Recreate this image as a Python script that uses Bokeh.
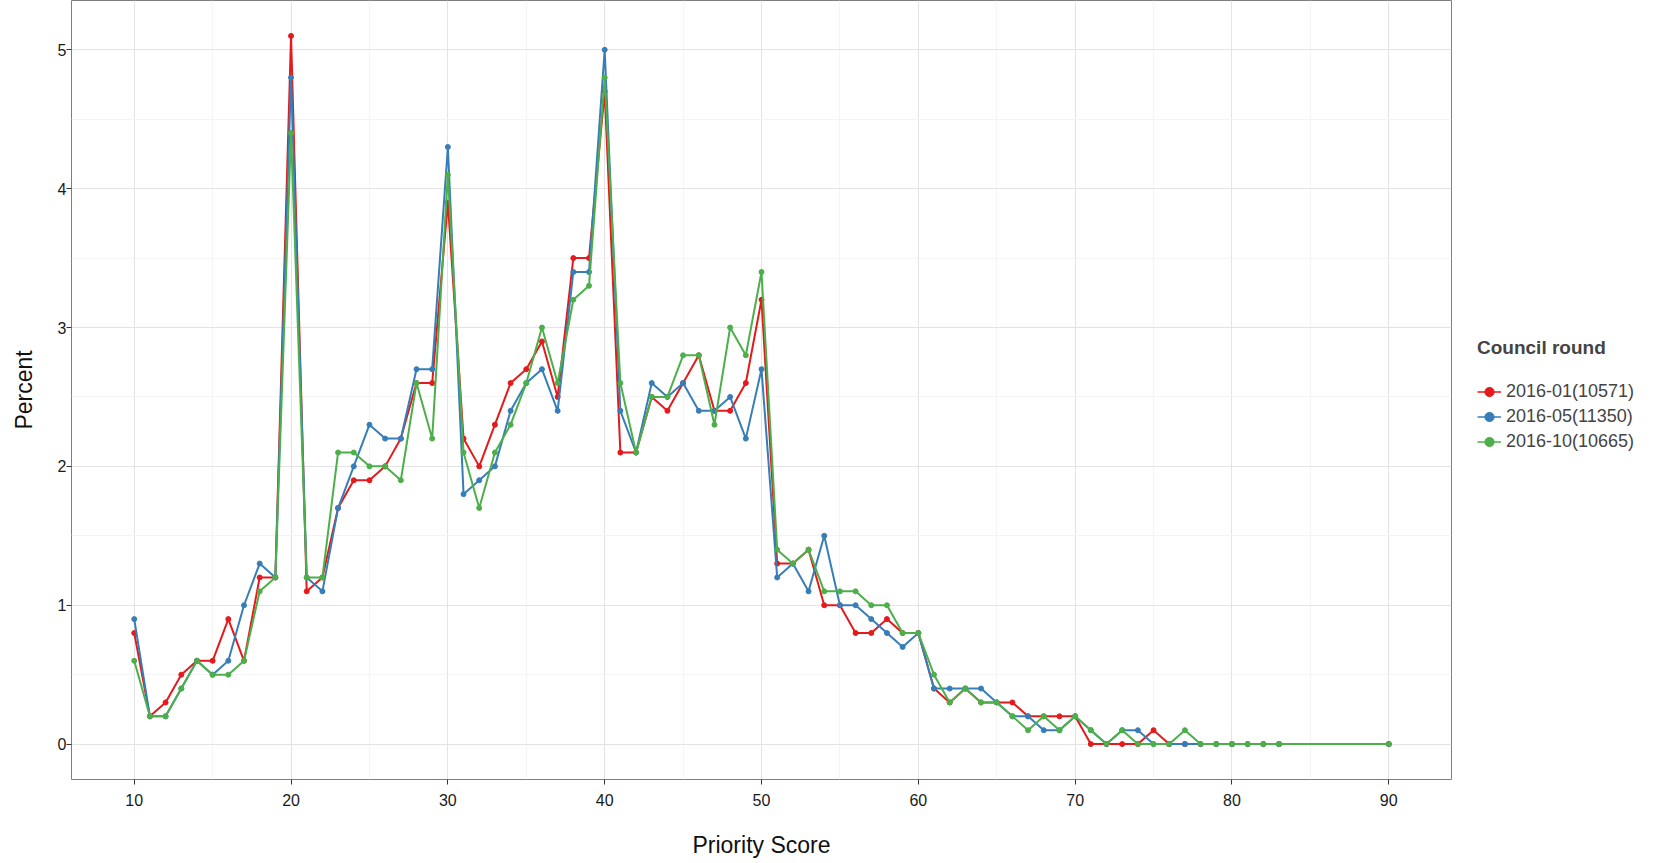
from bokeh.plotting import figure
from bokeh.models import (Range1d, FixedTicker, Legend, LegendItem, ColumnDataSource)
from bokeh.layouts import row
from bokeh.embed import file_html
from bokeh.resources import INLINE

scores = [10, 11, 12, 13, 14, 15, 16, 17, 18, 19, 20,
          21, 22, 23, 24, 25, 26, 27, 28, 29, 30,
          31, 32, 33, 34, 35, 36, 37, 38, 39, 40,
          41, 42, 43, 44, 45, 46, 47, 48, 49, 50,
          51, 52, 53, 54, 55, 56, 57, 58, 59, 60,
          61, 62, 63, 64, 65, 66, 67, 68, 69, 70,
          71, 72, 73, 74, 75, 76, 77, 78, 79, 80, 81, 82, 83,
          90]

round_2016_01 = [0.8, 0.2, 0.3, 0.5, 0.6, 0.6, 0.9, 0.6, 1.2, 1.2, 5.1,
                 1.1, 1.2, 1.7, 1.9, 1.9, 2.0, 2.2, 2.6, 2.6, 3.9,
                 2.2, 2.0, 2.3, 2.6, 2.7, 2.9, 2.5, 3.5, 3.5, 4.7,
                 2.1, 2.1, 2.5, 2.4, 2.6, 2.8, 2.4, 2.4, 2.6, 3.2,
                 1.3, 1.3, 1.4, 1.0, 1.0, 0.8, 0.8, 0.9, 0.8, 0.8,
                 0.4, 0.3, 0.4, 0.3, 0.3, 0.3, 0.2, 0.2, 0.2, 0.2,
                 0.0, 0.0, 0.0, 0.0, 0.1, 0.0, 0.0, 0.0, 0.0, 0.0, 0.0, 0.0, 0.0,
                 0.0]

round_2016_05 = [0.9, 0.2, 0.2, 0.4, 0.6, 0.5, 0.6, 1.0, 1.3, 1.2, 4.8,
                 1.2, 1.1, 1.7, 2.0, 2.3, 2.2, 2.2, 2.7, 2.7, 4.3,
                 1.8, 1.9, 2.0, 2.4, 2.6, 2.7, 2.4, 3.4, 3.4, 5.0,
                 2.4, 2.1, 2.6, 2.5, 2.6, 2.4, 2.4, 2.5, 2.2, 2.7,
                 1.2, 1.3, 1.1, 1.5, 1.0, 1.0, 0.9, 0.8, 0.7, 0.8,
                 0.4, 0.4, 0.4, 0.4, 0.3, 0.2, 0.2, 0.1, 0.1, 0.2,
                 0.1, 0.0, 0.1, 0.1, 0.0, 0.0, 0.0, 0.0, 0.0, 0.0, 0.0, 0.0, 0.0,
                 0.0]

round_2016_10 = [0.6, 0.2, 0.2, 0.4, 0.6, 0.5, 0.5, 0.6, 1.1, 1.2, 4.4,
                 1.2, 1.2, 2.1, 2.1, 2.0, 2.0, 1.9, 2.6, 2.2, 4.1,
                 2.1, 1.7, 2.1, 2.3, 2.6, 3.0, 2.6, 3.2, 3.3, 4.8,
                 2.6, 2.1, 2.5, 2.5, 2.8, 2.8, 2.3, 3.0, 2.8, 3.4,
                 1.4, 1.3, 1.4, 1.1, 1.1, 1.1, 1.0, 1.0, 0.8, 0.8,
                 0.5, 0.3, 0.4, 0.3, 0.3, 0.2, 0.1, 0.2, 0.1, 0.2,
                 0.1, 0.0, 0.1, 0.0, 0.0, 0.0, 0.1, 0.0, 0.0, 0.0, 0.0, 0.0, 0.0,
                 0.0]

series_names = ["2016-01(10571)", "2016-05(11350)", "2016-10(10665)"]
series_values = [round_2016_01, round_2016_05, round_2016_10]
series_colors = ["#E41A1C", "#377EB8", "#4DAF4A"]

x_ticks = [10, 20, 30, 40, 50, 60, 70, 80, 90]
x_minor = [15, 25, 35, 45, 55, 65, 75, 85]
y_ticks = [0, 1, 2, 3, 4, 5]
y_minor = [0.5, 1.5, 2.5, 3.5, 4.5]

FONT = "Liberation Sans"

p = figure(frame_width=1380, frame_height=779, output_backend="svg",
           toolbar_location=None,
           x_range=Range1d(6, 94), y_range=Range1d(-0.255, 5.355),
           min_border_left=71, min_border_right=10, min_border_top=0,
           min_border_bottom=68)

p.background_fill_color = "white"
p.border_fill_color = "white"
p.outline_line_color = "#7F7F7F"
p.outline_line_width = 1

p.xaxis.ticker = FixedTicker(ticks=x_ticks, minor_ticks=x_minor)
p.yaxis.ticker = FixedTicker(ticks=y_ticks, minor_ticks=y_minor)

p.xgrid.grid_line_color = "#E3E3E3"
p.ygrid.grid_line_color = "#E3E3E3"
p.xgrid.minor_grid_line_color = "#F4F4F4"
p.ygrid.minor_grid_line_color = "#F4F4F4"

for ax in (p.xaxis, p.yaxis):
    ax.axis_line_color = None
    ax.major_tick_line_color = "#333333"
    ax.major_tick_out = 5
    ax.major_tick_in = 0
    ax.minor_tick_out = 0
    ax.minor_tick_in = 0
    ax.major_label_text_font = FONT
    ax.major_label_text_font_size = "16px"
    ax.major_label_text_color = "#1A1A1A"
    ax.axis_label_text_font = FONT
    ax.axis_label_text_font_size = "23px"
    ax.axis_label_text_font_style = "normal"
    ax.axis_label_text_color = "#111111"

p.xaxis.axis_label = "Priority Score"
p.yaxis.axis_label = "Percent"
p.xaxis.major_label_standoff = 9
p.yaxis.major_label_standoff = 0
p.xaxis.axis_label_standoff = 23
p.yaxis.axis_label_standoff = 18

sources = []
for name, vals, col in zip(series_names, series_values, series_colors):
    src = ColumnDataSource(dict(x=scores, y=vals))
    sources.append(src)
    p.line("x", "y", source=src, line_color=col, line_width=2)
    p.scatter("x", "y", source=src, marker="circle", size=5,
              fill_color=col, line_color=col)

# legend panel (separate figure to the right; its view range excludes the data,
# so only the legend is visible there)
leg = figure(width=181, height=847, output_backend="svg", toolbar_location=None,
             x_range=Range1d(1000, 1001), y_range=Range1d(1000, 1001),
             min_border=0, x_axis_type=None, y_axis_type=None)
leg.outline_line_color = None
leg.xgrid.visible = False
leg.ygrid.visible = False
leg.background_fill_color = "white"
leg.border_fill_color = "white"

items = []
for name, src, col in zip(series_names, sources, series_colors):
    ln = leg.line("x", "y", source=src, line_color=col, line_width=1.5)
    pt = leg.scatter("x", "y", source=src, marker="circle", size=4,
                     fill_color=col, line_color=col)
    items.append(LegendItem(label=name, renderers=[ln, pt]))

legend = Legend(items=items, title="Council round", location=(16, 313),
                border_line_color=None, background_fill_alpha=0,
                label_text_font=FONT, label_text_font_size="18px",
                title_text_font=FONT, title_text_font_size="19px",
                title_text_font_style="bold", title_standoff=21,
                glyph_width=24, glyph_height=23, spacing=2,
                label_standoff=5, margin=0, padding=4)
leg.add_layout(legend)

layout = row(p, leg, spacing=0)

open("out.html", "w").write(file_html(layout, INLINE))
